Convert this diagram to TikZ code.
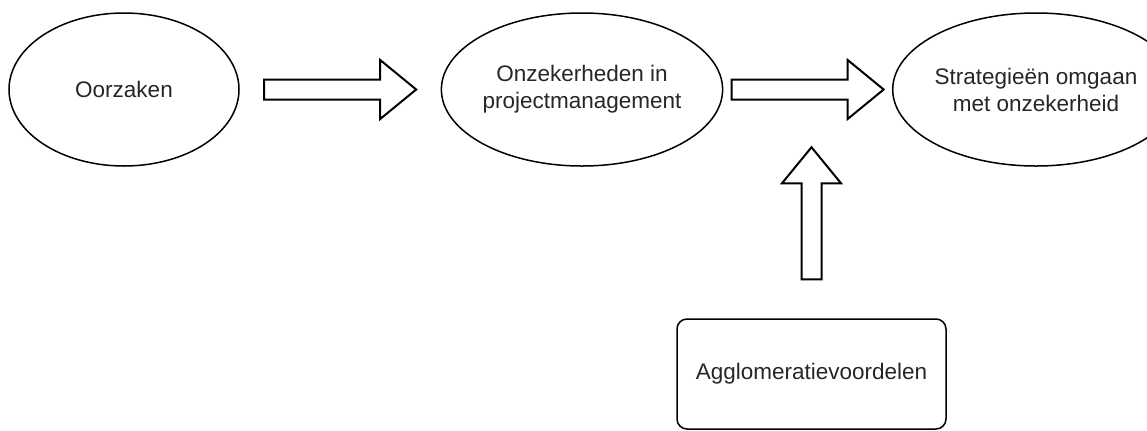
\documentclass[tikz,border=0pt]{standalone}
\usepackage{fontspec}
\setmainfont{Liberation Sans}
\usetikzlibrary{shapes.geometric,calc}
\tikzset{
  oval/.style={draw,ellipse,line width=0.75pt,inner sep=0pt,align=center,
    minimum width=115pt,minimum height=76.5pt},
  factorbox/.style={draw,rectangle,rounded corners=5pt,line width=0.75pt,
    minimum width=134.5pt,minimum height=55pt},
  blockarrow/.style={draw,line width=1pt,fill=white,line join=miter},
  pics/fatarrow/.style={code={
    \draw[blockarrow] (-#1/2,-10) -- (#1/2-36,-10) -- (#1/2-36,-29.5)
      -- (#1/2,0) -- (#1/2-36,29.5) -- (#1/2-36,10) -- (-#1/2,10) -- cycle;
  }}
}
\begin{document}
\begin{tikzpicture}[x=0.5pt,y=-0.5pt,font=\fontsize{11.25}{13.5}\selectfont,
  text=black!85]
\useasboundingbox (0,0) rectangle (1147,430);
\node[oval] (oorzaken) at (124,89.5) {Oorzaken};
\node[oval] (onzeker) at (582,89.5) {Onzekerheden in\\projectmanagement};
\node[oval,minimum width=110pt] (strategie) at (1036,89.5) {Strategieën omgaan\\met onzekerheid};
\node[factorbox] (agglo) at (811.5,374) {Agglomeratievoordelen};
% block arrows
\path ($(oorzaken.east)!0.5!(onzeker.west)$) pic {fatarrow=152};
\path ($(onzeker.east)!0.5!(strategie.west)$) pic {fatarrow=152};
\path (agglo.north) ++(0,-105) pic[rotate=90] {fatarrow=132};
\end{tikzpicture}
\end{document}
